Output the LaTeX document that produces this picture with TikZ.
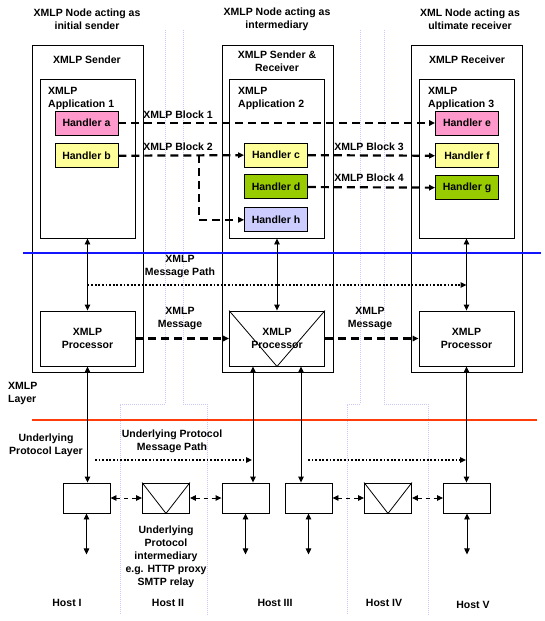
\documentclass[tikz,border=0pt]{standalone}
\usepackage{fontspec}
\setsansfont{Liberation Sans}
\usetikzlibrary{arrows.meta, positioning}
\definecolor{handlerpink}{RGB}{255, 153, 204}
\definecolor{handleryellow}{RGB}{255, 255, 153}
\definecolor{handlergreen}{RGB}{153, 204, 0}
\definecolor{handlerlilac}{RGB}{204, 204, 255}
\definecolor{hostline}{RGB}{200, 200, 250}
\definecolor{xmlpblue}{RGB}{20, 20, 255}
\definecolor{protored}{RGB}{255, 60, 10}

\begin{document}
\begin{tikzpicture}[
    x=1pt, y=-1pt,
    node distance=8pt,
    font=\sffamily\bfseries\fontsize{10.5}{13}\selectfont,
    >={Triangle[length=6pt, width=5.5pt]},
    box/.style={
        draw,
        line width=0.9pt,
        rectangle,
        inner sep=0pt
    },
    outer/.style={box, minimum width=111pt, minimum height=327pt},
    app/.style={box, minimum width=95pt, minimum height=159pt},
    handler/.style={box, minimum width=63pt, minimum height=24pt},
    processor/.style={box, minimum width=95pt, minimum height=55pt, align=center},
    hostbox/.style={box, minimum width=47pt, minimum height=30pt},
    caption/.style={align=center, inner sep=0pt},
    twoway/.style={<->, line width=0.9pt},
    blockarrow/.style={->, line width=2.2pt, dash pattern=on 8pt off 5pt},
    linkarrow/.style={<->, line width=0.9pt, dash pattern=on 4pt off 4pt},
    pathline/.style={->, line width=1.8pt, dash pattern=on 1.8pt off 1.8pt},
    hostsep/.style={hostline, line width=0.8pt, dash pattern=on 1pt off 1pt},
    layerline/.style={line width=2.6pt}
]
    \useasboundingbox (0,0) rectangle (545,621);

    % Host borders
    \draw[hostsep] (165,30) -- (165,404) -- (120,404) -- (120,615);
    \draw[hostsep] (183,30) -- (183,404) -- (207,404) -- (207,615);
    \draw[hostsep] (360,30) -- (360,404) -- (347,404) -- (347,615);
    \draw[hostsep] (384,30) -- (384,404) -- (428,404) -- (428,615);

    % Nodes
    \node[caption] (t1) at (87,19) {XMLP Node acting as\\initial sender};
    \node[caption] (t2) at (277,19) {XMLP Node acting as\\intermediary};
    \node[caption] (t3) at (470,19) {XML Node acting as\\ultimate receiver};

    \node[outer] (snd) at (87.5,208.5) {};
    \node[outer] (mid) at (277.5,208.5) {};
    \node[outer] (rcv) at (467,208.5) {};
    \node[caption] (snd_title) at (87,60) {XMLP Sender};
    \node[caption] (mid_title) at (277,61) {XMLP Sender \&\\Receiver};
    \node[caption] (rcv_title) at (467,60) {XMLP Receiver};

    \node[app] (app1) at (87.5,158.5) {};
    \node[app] (app2) at (277,158.5) {};
    \node[app] (app3) at (466.5,158.5) {};
    \node[caption, align=left, anchor=north west] (app1_title) at (48,87) {XMLP\\Application 1};
    \node[caption, align=left, anchor=north west] (app2_title) at (238,87) {XMLP\\Application 2};
    \node[caption, align=left, anchor=north west] (app3_title) at (428,87) {XMLP\\Application 3};

    \node[handler, fill=handlerpink] (ha) at (86.5,123) {Handler a};
    \node[handler, fill=handleryellow, below=of ha] (hb) {Handler b};
    \node[handler, fill=handleryellow] (hc) at (276,155) {Handler c};
    \node[handler, fill=handlergreen, below=7pt of hc] (hd) {Handler d};
    \node[handler, fill=handlerlilac, below=of hd] (hh) {Handler h};
    \node[handler, fill=handlerpink] (he) at (467,123) {Handler e};
    \node[handler, fill=handleryellow, below=of he] (hf) {Handler f};
    \node[handler, fill=handlergreen, below=7pt of hf] (hg) {Handler g};

    \node[caption] (blk1) at (178,115) {XMLP Block 1};
    \node[caption] (blk2) at (178,147) {XMLP Block 2};
    \node[caption] (blk3) at (369,147) {XMLP Block 3};
    \node[caption] (blk4) at (369,178) {XMLP Block 4};

    \node[caption] (msgpath) at (180,266.5) {XMLP\\Message Path};
    \node[caption] (msg1) at (180,318) {XMLP\\Message};
    \node[caption] (msg2) at (370,318) {XMLP\\Message};

    \node[processor] (proc1) at (87.5,338.5) {XMLP\\Processor};
    \node[processor] (proc2) at (277,338.5) {XMLP\\Processor};
    \node[processor] (proc3) at (466.5,338.5) {XMLP\\Processor};

    \node[caption, align=left, anchor=west] (xmlplayer) at (8,393.5) {XMLP\\Layer};
    \node[caption] (protolayer) at (46,445.5) {Underlying\\Protocol Layer};
    \node[caption] (protopath) at (172,441.5) {Underlying Protocol\\Message Path};

    \node[hostbox] (b1) at (86.5,498) {};
    \node[hostbox] (i2) at (166,498) {};
    \node[hostbox] (b3a) at (245.5,498) {};
    \node[hostbox] (b3b) at (308.5,498) {};
    \node[hostbox] (i4) at (388,498) {};
    \node[hostbox] (b5) at (467,498) {};

    \node[caption, below=12pt of i2] (proxy) {Underlying\\Protocol\\intermediary\\e.g. HTTP proxy\\SMTP relay};

    \node[caption] (host1) at (67,603) {Host I};
    \node[caption] (host2) at (168,603) {Host II};
    \node[caption] (host3) at (275,603) {Host III};
    \node[caption] (host4) at (384,603) {Host IV};
    \node[caption] (host5) at (473,605) {Host V};

    \coordinate (split) at (199,155);
    \coordinate (mpath) at (0,285);
    \coordinate (up1) at (95,460);
    \coordinate (up2) at (252,460);
    \coordinate (up3) at (308,460);
    \coordinate (up4) at (466,460);

    % Edges
    \draw[line width=0.8pt] (proc2.north west) -- (proc2.south) -- (proc2.north east);
    \draw[line width=0.8pt] (i2.north west) -- (i2.south) -- (i2.north east);
    \draw[line width=0.8pt] (i4.north west) -- (i4.south) -- (i4.north east);

    \draw[blockarrow] (ha) -- (he);
    \draw[blockarrow] (hb) -- (hc);
    \draw[blockarrow] (split) |- (hh);
    \draw[blockarrow] (hc) -- (hf);
    \draw[blockarrow] (hd) -- (hg);

    \draw[layerline, xmlpblue] (23,253) -- (541,253);
    \draw[layerline, protored] (32,420) -- (537,420);

    \draw[twoway] (app1) -- (proc1);
    \draw[twoway] (app2) -- (proc2);
    \draw[twoway] (app3) -- (proc3);
    \draw[pathline] (app1.south |- mpath) -- (app3.south |- mpath);

    \draw[blockarrow] (proc1) -- (proc2);
    \draw[blockarrow] (proc2) -- (proc3);

    \draw[twoway] (proc1.south) -- (proc1.south |- b1.north);
    \draw[twoway] ([xshift=-24pt]proc2.south) -- ([xshift=-24pt]proc2.south |- b3a.north);
    \draw[twoway] ([xshift=24pt]proc2.south) -- ([xshift=24pt]proc2.south |- b3b.north);
    \draw[twoway] (proc3.south) -- (proc3.south |- b5.north);
    \draw[pathline] (up1) -- (up2);
    \draw[pathline] (up3) -- (up4);

    \draw[linkarrow] (b1) -- (i2);
    \draw[linkarrow] (i2) -- (b3a);
    \draw[linkarrow] (b3b) -- (i4);
    \draw[linkarrow] (i4) -- (b5);

    \draw[twoway] (b1.south) -- ++(0,41);
    \draw[twoway] (b3a.south) -- ++(0,41);
    \draw[twoway] (b3b.south) -- ++(0,41);
    \draw[twoway] (b5.south) -- ++(0,41);

\end{tikzpicture}
\end{document}
